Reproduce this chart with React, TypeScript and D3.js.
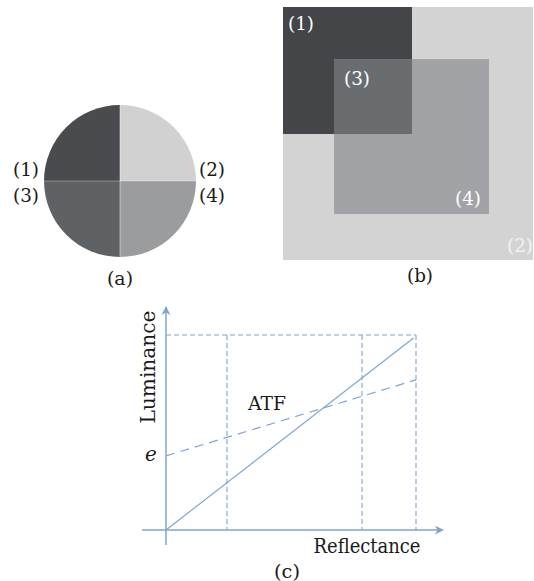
import React from "react";
import * as d3 from "d3";

// Panel (a): quadrant shades
const quadLabels = ["(2)", "(4)", "(3)", "(1)"];
const quadColors = ["#d1d1d1", "#9b9c9e", "#5f6265", "#4a4b4e"];

// Panel (b): rectangles in unit coordinates [x0, y0, x1, y1]
const rectNames = ["(2)", "(1)", "(4)"];
const rectX0 = [0, 0, 0.204];
const rectY0 = [0, 0, 0.206];
const rectX1 = [1, 0.516, 0.824];
const rectY1 = [1, 0.502, 0.818];
const rectColors = ["#d3d3d3", "#434548", "#a2a3a6"];
const overlapColor = "#6a6d70";

// Panel (c): line values
const solidX = [0, 0.99];
const solidY = [0, 0.985];
const atfX = [0, 1];
const atfY = [0.38, 0.77];
const guideX = [0.244, 0.784, 1];
const topY = 1;

const blue = "#7fa6d0";
const serif = "DejaVu Serif, Liberation Serif, Times New Roman, serif";

export default function App() {
  // Panel a
  const cx = 120, cy = 181, r = 76;
  const arc = d3.arc<any>().innerRadius(0).outerRadius(r);
  const quads = quadColors.map((c, i) => ({
    startAngle: (i * Math.PI) / 2,
    endAngle: ((i + 1) * Math.PI) / 2,
    color: c,
  }));

  // Panel b
  const bx = d3.scaleLinear().domain([0, 1]).range([283, 533]);
  const by = d3.scaleLinear().domain([0, 1]).range([7, 260]);

  // Panel c
  const x = d3.scaleLinear().domain([0, 1]).range([166, 416]);
  const y = d3.scaleLinear().domain([0, 1]).range([530, 335]);
  const line = d3.line<[number, number]>().x((d) => x(d[0])).y((d) => y(d[1]));
  const solidPts: [number, number][] = solidX.map((v, i) => [v, solidY[i]]);
  const atfPts: [number, number][] = atfX.map((v, i) => [v, atfY[i]]);

  const lab = { textLength: 26, lengthAdjust: "spacingAndGlyphs" } as any;

  return (
    <svg width={534} height={581} style={{ position: "absolute", left: 0, top: 0, background: "#fff" }}>
      {/* Panel a */}
      <g transform={`translate(${cx},${cy})`}>
        {quads.map((q, i) => (
          <path key={i} d={arc(q) as string} fill={q.color} />
        ))}
        <line x1={0} x2={0} y1={-r} y2={r} stroke="#fff" strokeWidth={0.8} opacity={0.6} />
        <line x1={-r} x2={r} y1={0} y2={0} stroke="#fff" strokeWidth={0.8} opacity={0.4} />
      </g>
      <g style={{ fontFamily: serif }} fontSize={19} fill="#1a1a1a">
        <text x={26} y={176} textAnchor="middle" {...lab}>{quadLabels[3]}</text>
        <text x={212} y={176} textAnchor="middle" {...lab}>{quadLabels[0]}</text>
        <text x={26} y={202} textAnchor="middle" {...lab}>{quadLabels[2]}</text>
        <text x={212} y={202} textAnchor="middle" {...lab}>{quadLabels[1]}</text>
        <text x={120} y={285} textAnchor="middle" {...lab}>(a)</text>
      </g>

      {/* Panel b */}
      {rectNames.map((n, i) => (
        <rect
          key={n}
          x={bx(rectX0[i])}
          y={by(rectY0[i])}
          width={bx(rectX1[i]) - bx(rectX0[i])}
          height={by(rectY1[i]) - by(rectY0[i])}
          fill={rectColors[i]}
        />
      ))}
      <rect
        x={bx(rectX0[2])}
        y={by(rectY0[2])}
        width={bx(rectX1[1]) - bx(rectX0[2])}
        height={by(rectY1[1]) - by(rectY0[2])}
        fill={overlapColor}
      />
      <g style={{ fontFamily: serif }} fontSize={19} fill="#fff">
        <text x={288} y={30} {...lab}>(1)</text>
        <text x={344} y={85} {...lab}>(3)</text>
        <text x={455} y={205} {...lab}>(4)</text>
        <text x={507} y={252} fill="#f2f2f2" {...lab}>(2)</text>
      </g>
      <text x={420} y={282} textAnchor="middle" style={{ fontFamily: serif }} fontSize={19} fill="#1a1a1a" {...lab}>(b)</text>

      {/* Panel c */}
      <defs>
        <marker id="arr" viewBox="0 0 10 10" refX={9} refY={5} markerWidth={9} markerHeight={9} markerUnits="userSpaceOnUse" orient="auto">
          <path d="M0,0 L10,5 L0,10 L3,5 Z" fill={blue} />
        </marker>
      </defs>
      <line x1={x(0)} x2={x(0)} y1={545} y2={307} stroke={blue} strokeWidth={1.5} markerEnd="url(#arr)" />
      <line x1={142} x2={443} y1={y(0)} y2={y(0)} stroke={blue} strokeWidth={1.5} markerEnd="url(#arr)" />
      <line x1={x(0)} x2={x(1)} y1={y(topY)} y2={y(topY)} stroke={blue} strokeWidth={1.1} strokeDasharray="5,3" />
      {guideX.map((g) => (
        <line key={g} x1={x(g)} x2={x(g)} y1={y(topY)} y2={y(0)} stroke={blue} strokeWidth={1.1} strokeDasharray="5,3" />
      ))}
      <path d={line(solidPts) as string} fill="none" stroke={blue} strokeWidth={1.2} />
      <path d={line(atfPts) as string} fill="none" stroke={blue} strokeWidth={1.2} strokeDasharray="9,6" />
      <g style={{ fontFamily: serif }} fill="#1a1a1a">
        <text x={267} y={410} textAnchor="middle" fontSize={19} textLength={38} lengthAdjust="spacingAndGlyphs">ATF</text>
        <text x={151} y={461} textAnchor="middle" fontSize={20} fontStyle="italic">e</text>
        <text transform="translate(155,367) rotate(-90)" textAnchor="middle" fontSize={20} textLength={113} lengthAdjust="spacingAndGlyphs">Luminance</text>
        <text x={367} y={553} textAnchor="middle" fontSize={20} textLength={107} lengthAdjust="spacingAndGlyphs">Reflectance</text>
        <text x={287} y={578} textAnchor="middle" fontSize={19} textLength={26} lengthAdjust="spacingAndGlyphs">(c)</text>
      </g>
    </svg>
  );
}
